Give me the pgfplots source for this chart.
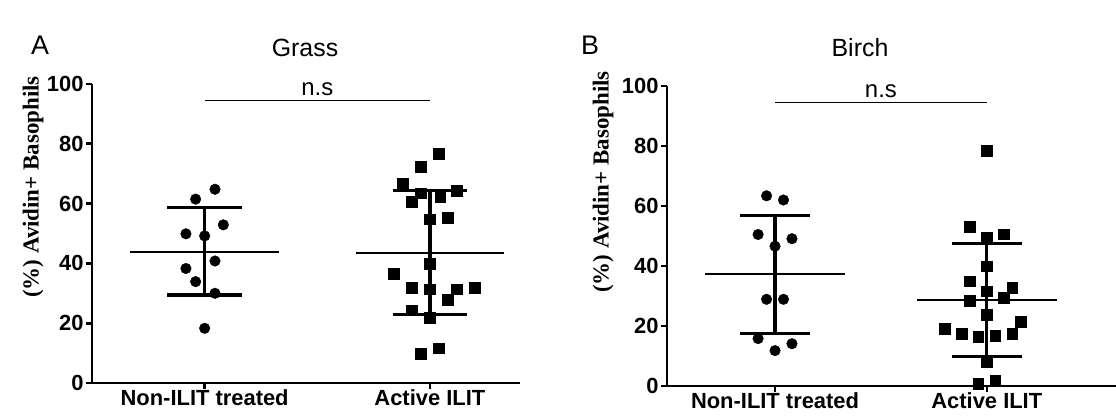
\documentclass[border=0pt]{standalone}
\usepackage{pgfplots}
\pgfplotsset{compat=1.18}
\usepackage{fontspec}
\setmainfont{Liberation Sans}
\newfontfamily\timesf{Liberation Serif}
\pgfplotsset{
  myax/.style={scale only axis, ymin=0, ymax=100, axis x line*=bottom, axis y line*=left,
    axis line style={line width=2.6bp}, clip=false,
    ytick={0,20,...,100}, xtick={0,1}, xticklabels={Non-ILIT treated, Active ILIT},
    tick style={line width=2.6bp, black}, major tick length=6bp, tick align=outside,
    ticklabel style={font=\fontsize{22}{22}\selectfont\bfseries},
    /pgf/number format/assume math mode=true,
    xticklabel style={yshift=3bp}, yticklabel style={xshift=1bp},
    every axis plot/.append style={black}},
  mean/.style={line width=1.8bp, mark=none},
  sd/.style={line width=3.2bp, mark=none},
  circ/.style={only marks, mark=*, mark size=5.3bp},
  sq/.style={only marks, mark=square*, mark size=5.3bp}
}
\begin{document}
\begin{tikzpicture}[x=1bp,y=1bp]
\path[use as bounding box] (0,0) rectangle (1116,419);
\node[font=\fontsize{27}{27}\selectfont] at (40,374) {A};
\node[font=\fontsize{27}{27}\selectfont] at (590,374) {B};
\node[font=\fontsize{25}{25}\selectfont] at (305,371) {Grass};
\node[font=\fontsize{25}{25}\selectfont] at (860,371) {Birch};
\node[rotate=90,font=\timesf\fontsize{23}{23}\selectfont\bfseries] at (33,232) {(\%) Avidin+ Basophils};
\node[rotate=90,font=\timesf\fontsize{23}{23}\selectfont\bfseries] at (603,237) {(\%) Avidin+ Basophils};
\begin{axis}[myax, at={(92bp,36bp)}, anchor=south west, width=428bp, height=299bp, xmin=-0.50, xmax=1.40]
\addplot[circ] coordinates {(0.046,64.8)(-0.04,61.5)(0.083,52.9)(-0.083,49.9)(0,49.2)(0.046,40.8)(-0.083,38.3)(-0.04,33.9)(0.046,30.0)(0,18.3)};
\addplot[sq] coordinates {(1.04,76.7)(0.96,72.3)(0.88,66.6)(0.96,63.5)(0.92,60.7)(1.045,62.4)(1.12,64.4)(1,54.8)(1.08,55.3)(1,39.9)(0.84,36.6)(0.92,31.8)(1,31.4)(1.12,31.4)(1.2,31.8)(1.08,27.8)(0.92,24.3)(1,21.9)(1.04,11.6)(0.96,9.8)};
\addplot[mean] coordinates {(-0.33,43.8)(0.33,43.8)};
\addplot[sd] coordinates {(0,29.4)(0,58.7)};
\addplot[sd] coordinates {(-0.165,58.7)(0.165,58.7)};
\addplot[sd] coordinates {(-0.165,29.4)(0.165,29.4)};
\addplot[mean] coordinates {(0.67,43.5)(1.33,43.5)};
\addplot[sd] coordinates {(1,22.9)(1,64.3)};
\addplot[sd] coordinates {(0.835,64.3)(1.165,64.3)};
\addplot[sd] coordinates {(0.835,22.9)(1.165,22.9)};
\addplot[line width=1bp, mark=none] coordinates {(0,94.6)(1,94.6)};
\node[font=\fontsize{24}{24}\selectfont, anchor=south] at (axis cs:0.5,95) {n.s};
\end{axis}
\begin{axis}[myax, at={(667bp,33bp)}, anchor=south west, width=449bp, height=300bp, xmin=-0.51, xmax=1.61]
\addplot[circ] coordinates {(-0.04,63.4)(0.04,62.0)(-0.08,50.5)(0.08,49.1)(0,46.6)(-0.04,28.9)(0.04,28.9)(-0.08,15.8)(0.08,14.1)(0,11.8)};
\addplot[sq] coordinates {(1,78.4)(0.92,53.1)(1.08,50.6)(1,49.4)(1,40.0)(0.92,35.0)(1.12,32.7)(1,31.6)(0.92,28.4)(1.08,29.4)(1,23.8)(1.16,21.4)(0.8,19.1)(0.88,17.5)(0.96,16.4)(1.04,16.8)(1.12,17.5)(1,8.0)(0.96,0.8)(1.04,1.7)};
\addplot[mean] coordinates {(-0.33,37.3)(0.33,37.3)};
\addplot[sd] coordinates {(0,17.6)(0,56.9)};
\addplot[sd] coordinates {(-0.165,56.9)(0.165,56.9)};
\addplot[sd] coordinates {(-0.165,17.6)(0.165,17.6)};
\addplot[mean] coordinates {(0.67,28.6)(1.33,28.6)};
\addplot[sd] coordinates {(1,9.8)(1,47.6)};
\addplot[sd] coordinates {(0.835,47.6)(1.165,47.6)};
\addplot[sd] coordinates {(0.835,9.8)(1.165,9.8)};
\addplot[line width=1bp, mark=none] coordinates {(0,94.6)(1,94.6)};
\node[font=\fontsize{24}{24}\selectfont, anchor=south] at (axis cs:0.5,95) {n.s};
\end{axis}
\end{tikzpicture}
\end{document}
